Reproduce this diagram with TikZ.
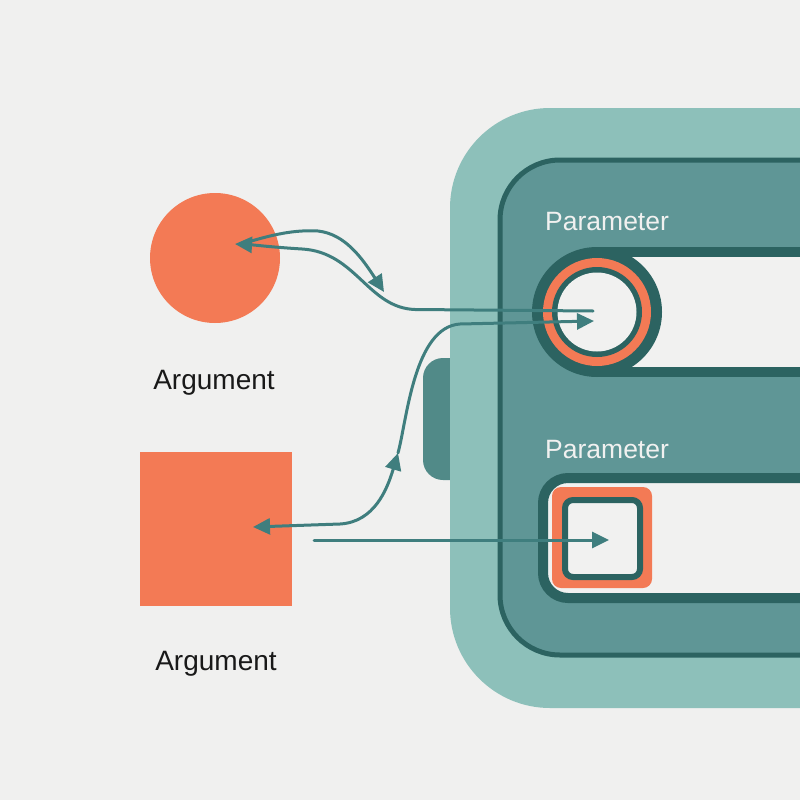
\documentclass[tikz,border=0pt]{standalone}
\usepackage{fontspec}
\setmainfont{Liberation Sans}
\usetikzlibrary{arrows.meta}
\definecolor{bgc}{HTML}{F0F0EF}
\definecolor{outerteal}{HTML}{8DC0BA}
\definecolor{midteal}{HTML}{5F9696}
\definecolor{darkteal}{HTML}{2C6361}
\definecolor{tabteal}{HTML}{518A88}
\definecolor{orng}{HTML}{F37A55}
\definecolor{slotwhite}{HTML}{F1F1F0}
\definecolor{conncol}{HTML}{3F7E7E}
\tikzset{
  conn/.style={draw=conncol, line width=3pt, line cap=round},
  tip/.tip={Triangle[length=17pt,width=16pt]},
  argtext/.style={font=\fontsize{28}{30}\selectfont, text=black!90},
  partext/.style={font=\fontsize{26.5}{28}\selectfont, text=slotwhite, anchor=west, inner sep=0pt},
}
\begin{document}
\begin{tikzpicture}[x=1pt,y=-1pt]
\useasboundingbox (0,0) rectangle (800,800);
\fill[bgc] (0,0) rectangle (800,800);
\clip (0,0) rectangle (800,800);
% tab
\fill[tabteal, rounded corners=20pt] (423,358) rectangle (480,480);
% outer device
\fill[outerteal, rounded corners=100pt] (450,108) rectangle (900,708);
% inner panel
\filldraw[fill=midteal, draw=darkteal, line width=5pt, rounded corners=60pt] (500,160) rectangle (880,655);
% slot 1
\fill[darkteal] (597,247) rectangle (820,377);
\fill[slotwhite] (597,257) rectangle (820,367);
\fill[darkteal] (597,312) circle[radius=65];
\fill[orng] (597,312) circle[radius=54];
\fill[darkteal] (597,312) circle[radius=45];
\node[circle, fill=slotwhite, minimum size=79pt, inner sep=0pt] (pin1) at (597,312) {};
% slot 2
\filldraw[fill=slotwhite, draw=darkteal, line width=10pt, rounded corners=25pt] (543,478) rectangle (850,598);
\fill[orng, rounded corners=9pt] (552,487) rectangle (652,588);
\node[draw=darkteal, fill=slotwhite, line width=6pt, rounded corners=8pt, minimum width=75pt, minimum height=77pt, inner sep=0pt] (pin2) at (602.5,538.5) {};
% labels
\node[partext] (par1) at (545,222) {Parameter};
\node[partext] (par2) at (545,450) {Parameter};
% arguments
\node[circle, fill=orng, minimum size=130pt, inner sep=0pt] (argc) at (215,258) {};
\node[fill=orng, minimum width=152pt, minimum height=154pt, inner sep=0pt] (args) at (216,529) {};
\node[argtext] (lab1) at (214,383) {Argument};
\node[argtext] (lab2) at (216,664) {Argument};
% connector points
\coordinate (ctip) at (235,244);
\coordinate (afree) at (384,292);
\coordinate (p1a) at (593,311);
\coordinate (p1b) at (594,321);
\coordinate (stip) at (253,527);
\coordinate (bmid) at (398,453);
\coordinate (cstart) at (314,540);
\coordinate (p2tip) at (609,540);
% connectors
\draw[conn, -{tip}] (p1a) -- (415,309.5) .. controls (368,308) and (356,252) .. (302,249) .. controls (270,247) and (255,245) .. (ctip);
\draw[conn, -{tip}] (ctip) ++(10,-1) .. controls (280,232) and (300,230) .. (318,231) .. controls (345,234) and (362,258) .. (afree);
\draw[conn, {tip}-{tip}] (stip) -- (340,524) .. controls (374,522) and (387,490) .. (bmid);
\draw[conn, -{tip}] (bmid) .. controls (407,420) and (414,327) .. (460,324) -- (p1b);
\draw[conn, -{tip}] (cstart) -- (p2tip);
\end{tikzpicture}
\end{document}
